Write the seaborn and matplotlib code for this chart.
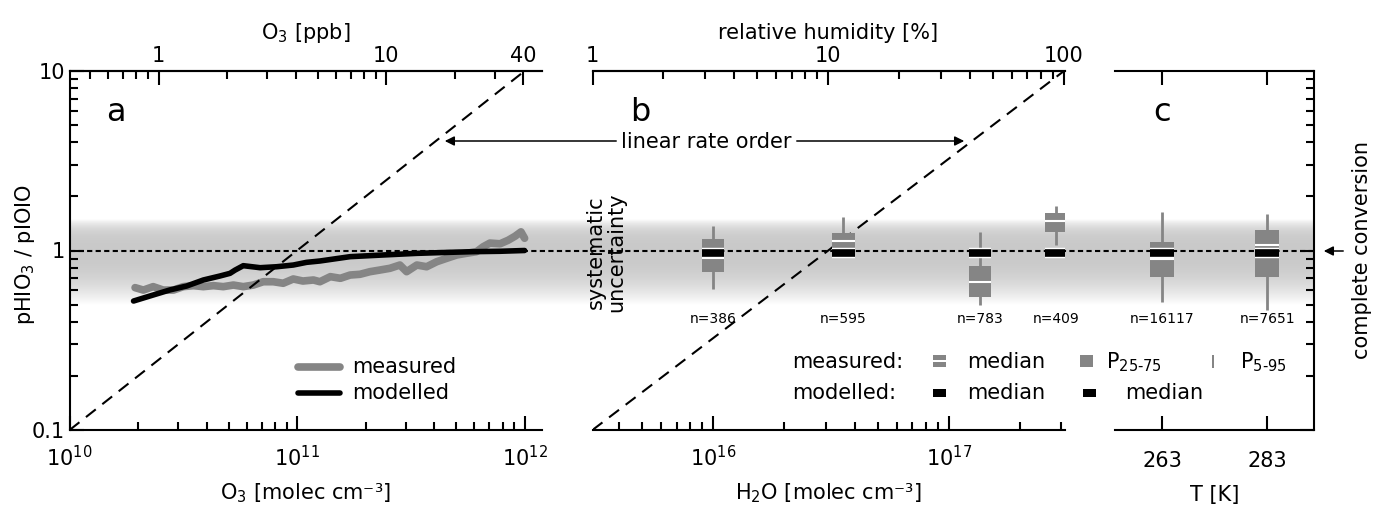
import numpy as np
import matplotlib
matplotlib.use("Agg")
import matplotlib.pyplot as plt
import matplotlib.patheffects as pe
from matplotlib.patches import Rectangle, FancyArrowPatch
from matplotlib.lines import Line2D
from matplotlib.ticker import FixedLocator, NullFormatter, NullLocator
import seaborn as sns

sns.set_style("ticks")
plt.rcParams["font.family"] = ["DejaVu Sans"]
plt.rcParams["mathtext.fontset"] = "dejavusans"
plt.rcParams["font.size"] = 15
plt.rcParams["text.color"] = "k"
plt.rcParams["axes.labelcolor"] = "k"
for ax_name in ("xtick", "ytick"):
    plt.rcParams[f"{ax_name}.direction"] = "in"
    plt.rcParams[f"{ax_name}.color"] = "k"
    plt.rcParams[f"{ax_name}.labelcolor"] = "k"
    plt.rcParams[f"{ax_name}.major.size"] = 10
    plt.rcParams[f"{ax_name}.minor.size"] = 6
    plt.rcParams[f"{ax_name}.major.width"] = 1.5
    plt.rcParams[f"{ax_name}.minor.width"] = 1.5
    plt.rcParams[f"{ax_name}.labelsize"] = 15
plt.rcParams["axes.edgecolor"] = "k"
plt.rcParams["axes.linewidth"] = 1.5

# panel a : ratio against O3 (molec cm-3)
o3_meas = [1.94e10, 2.11e10, 2.33e10, 2.58e10, 2.86e10, 3.16e10, 3.50e10, 3.87e10,
           4.29e10, 4.74e10, 5.25e10, 5.80e10, 6.42e10, 7.10e10, 7.86e10, 8.69e10,
           9.62e10, 1.06e11, 1.18e11, 1.26e11, 1.40e11, 1.55e11, 1.71e11, 1.89e11,
           2.09e11, 2.32e11, 2.56e11, 2.83e11, 3.03e11, 3.36e11, 3.71e11, 4.11e11,
           4.55e11, 5.03e11, 5.56e11, 6.15e11, 6.58e11, 7.04e11, 7.80e11, 8.46e11,
           9.07e11, 9.64e11, 1.0e12]
ratio_meas = [0.621, 0.602, 0.629, 0.602, 0.602, 0.629, 0.637, 0.629,
              0.637, 0.629, 0.642, 0.629, 0.642, 0.670, 0.670, 0.657,
              0.694, 0.676, 0.685, 0.670, 0.715, 0.700, 0.730, 0.737,
              0.762, 0.779, 0.796, 0.830, 0.762, 0.830, 0.812, 0.866,
              0.905, 0.944, 0.965, 0.985, 1.05, 1.10, 1.09, 1.14,
              1.20, 1.27, 1.17]
o3_mod = [1.91e10, 2.33e10, 2.76e10, 3.27e10, 3.87e10, 4.58e10, 5.07e10, 5.34e10,
          5.80e10, 6.88e10, 8.13e10, 9.62e10, 1.10e11, 1.26e11, 1.71e11, 2.39e11,
          3.36e11, 4.70e11, 5.93e11, 7.80e11, 1.0e12]
ratio_mod = [0.523, 0.565, 0.603, 0.634, 0.685, 0.721, 0.746, 0.778,
             0.823, 0.802, 0.812, 0.830, 0.859, 0.874, 0.924, 0.944,
             0.964, 0.977, 0.985, 0.99, 1.0]
a_line_x = [1e10, 1e12]
a_line_y = [0.1, 10]

PPB = 2.46e10    # molec cm-3 per ppb O3
RH1 = 3.08e15    # molec cm-3 H2O at 1 % RH

# panel b : ratio against H2O
h2o_pos = [1.0e16, 3.57e16, 1.355e17, 2.85e17]
h2o_n = [386, 595, 783, 409]
h2o_p5 = [0.61, 0.97, 0.50, 1.07]
h2o_p25 = [0.76, 1.03, 0.55, 1.26]
h2o_med = [0.91, 1.13, 0.67, 1.46]
h2o_p75 = [1.16, 1.25, 0.82, 1.61]
h2o_p95 = [1.37, 1.54, 1.26, 1.78]
h2o_mod = [0.97, 0.97, 0.97, 0.97]
b_line_x = [3.08e15, 3.08e17]
b_line_y = [0.1, 10]

# panel c : ratio against temperature
temp_pos = [263, 283]
temp_n = [16117, 7651]
temp_p5 = [0.515, 0.466]
temp_p25 = [0.709, 0.709]
temp_med = [0.893, 1.07]
temp_p75 = [1.11, 1.30]
temp_p95 = [1.63, 1.59]
temp_mod = [0.97, 0.97]

GRAY = "#858585"
W, H = 1373, 505
fig = plt.figure(figsize=(W / 100, H / 100), dpi=100)


def rect(x0, x1, y0=71, y1=430):
    return [x0 / W, 1 - y1 / H, (x1 - x0) / W, (y1 - y0) / H]


ax_bg = fig.add_axes(rect(69.6, 1314.3), zorder=0)
ax_a = fig.add_axes(rect(69.6, 542), zorder=1)
ax_b = fig.add_axes(rect(592.5, 1064.6), zorder=1)
ax_c = fig.add_axes(rect(1115, 1314.3), zorder=1)
for ax in (ax_a, ax_b, ax_c):
    ax.patch.set_visible(False)

# uncertainty band and the line of complete conversion
ax_bg.set_xlim(0, 1)
ax_bg.set_ylim(-1, 1)
ax_bg.axis("off")
rows = 10 ** np.linspace(np.log10(0.5), np.log10(1.5), 300)
t = (rows - 1) / 0.5
grad = np.zeros((300, 1, 4))
grad[..., :3] = 0.5
grad[:, 0, 3] = 0.42 * (1 - np.abs(t) ** 3)
ax_bg.imshow(grad, extent=[0, 1, np.log10(0.5), np.log10(1.5)], origin="lower",
             aspect="auto", interpolation="bilinear")
ax_bg.axhline(0, color="k", lw=1.5, ls=(0, (2.5, 1.6)))


def style_ticks(axis_obj):
    axis_obj.tick_params(which="both", direction="in", width=1.5, color="k",
                         labelcolor="k", labelsize=15)
    axis_obj.tick_params(which="major", length=10)
    axis_obj.tick_params(which="minor", length=6)


# ---- panel a
sns.lineplot(x=o3_meas, y=ratio_meas, ax=ax_a, color=GRAY, lw=5.5, estimator=None, sort=False)
sns.lineplot(x=o3_mod, y=ratio_mod, ax=ax_a, color="k", lw=4, estimator=None, sort=False)
ax_a.plot(a_line_x, a_line_y, color="k", lw=1.5, ls=(0, (6, 4)))
ax_a.set_xscale("log")
ax_a.set_yscale("log")
ax_a.set_xlim(1e10, 10 ** 12.0765)
ax_a.set_ylim(0.1, 10)
ax_a.spines["right"].set_visible(False)
ax_a.set_yticks([0.1, 1, 10])
ax_a.set_yticklabels(["0.1", "1", "10"])
ax_a.yaxis.set_minor_formatter(NullFormatter())
ax_a.xaxis.set_minor_formatter(NullFormatter())
style_ticks(ax_a)
ax_a.tick_params(which="both", top=False, right=False, bottom=True, left=True)
ax_a.tick_params(axis="x", which="major", pad=11)
ax_a.set_xlabel("O$_3$ [molec cm⁻³]")
ax_a.xaxis.set_label_coords(0.5, -0.142)
ax_a.set_ylabel("pHIO$_3$ / pIOIO")
ax_a.yaxis.set_label_coords(-0.069, 0.49)

top_a = ax_a.secondary_xaxis("top", functions=(lambda x: x / PPB, lambda x: x * PPB))
top_a.set_xticks([1, 10, 40])
top_a.set_xticklabels(["1", "10", "40"])
top_a.xaxis.set_minor_locator(FixedLocator([0.5, 0.6, 0.7, 0.8, 0.9, 2, 3, 4, 5, 6, 7, 8, 9, 20, 30]))
top_a.xaxis.set_minor_formatter(NullFormatter())
style_ticks(top_a)
top_a.spines["top"].set_linewidth(1.5)
top_a.set_xlabel("O$_3$ [ppb]", labelpad=5)


def draw_box(ax, x0, x1, xc, p5, p25, med, p75, p95, mod):
    ax.plot([xc, xc], [p5, p95], color=GRAY, lw=2, solid_capstyle="butt", zorder=3)
    ax.add_patch(Rectangle((x0, p25), x1 - x0, p75 - p25, fc=GRAY, ec="none", zorder=4))
    ax.plot([x0, x1], [med, med], color="white", lw=1.5, solid_capstyle="butt", zorder=5)
    ax.plot([x0, x1], [mod, mod], color="k", lw=5.5, solid_capstyle="butt", zorder=6,
            path_effects=[pe.Stroke(linewidth=7.5, foreground="white"), pe.Normal()])


# ---- panel b
ax_b.plot(b_line_x, b_line_y, color="k", lw=1.5, ls=(0, (6, 4)))
for i, xc in enumerate(h2o_pos):
    draw_box(ax_b, xc * 10 ** -0.048, xc * 10 ** 0.048, xc, h2o_p5[i], h2o_p25[i],
             h2o_med[i], h2o_p75[i], h2o_p95[i], h2o_mod[i])
    ax_b.text(xc, 0.415, f"n={h2o_n[i]}", ha="center", va="center", fontsize=10)
ax_b.set_xscale("log")
ax_b.set_yscale("log")
ax_b.set_xlim(RH1, 100.6 * RH1)
ax_b.set_ylim(0.1, 10)
for s in ("left", "right"):
    ax_b.spines[s].set_visible(False)
ax_b.yaxis.set_major_locator(NullLocator())
ax_b.yaxis.set_minor_locator(NullLocator())
ax_b.xaxis.set_minor_formatter(NullFormatter())
style_ticks(ax_b)
ax_b.tick_params(which="both", left=False, right=False, top=False, bottom=True, labelleft=False)
ax_b.tick_params(axis="x", which="major", pad=11)
ax_b.set_xlabel("H$_2$O [molec cm⁻³]")
ax_b.xaxis.set_label_coords(0.5, -0.142)

top_b = ax_b.secondary_xaxis("top", functions=(lambda x: x / RH1, lambda x: x * RH1))
top_b.set_xticks([1, 10, 100])
top_b.set_xticklabels(["1", "10", "100"])
top_b.xaxis.set_minor_locator(FixedLocator([2, 3, 4, 5, 6, 7, 8, 9, 20, 30, 40, 50, 60, 70, 80, 90]))
top_b.xaxis.set_minor_formatter(NullFormatter())
style_ticks(top_b)
top_b.spines["top"].set_linewidth(1.5)
top_b.set_xlabel("relative humidity [%]", labelpad=5)

# ---- panel c
for i, xc in enumerate(temp_pos):
    draw_box(ax_c, xc - 2.3, xc + 2.3, xc, temp_p5[i], temp_p25[i],
             temp_med[i], temp_p75[i], temp_p95[i], temp_mod[i])
    ax_c.text(xc, 0.415, f"n={temp_n[i]}", ha="center", va="center", fontsize=10)
ax_c.set_yscale("log")
ax_c.set_xlim(254, 292)
ax_c.set_ylim(0.1, 10)
ax_c.spines["left"].set_visible(False)
ax_c.set_xticks(temp_pos)
ax_c.yaxis.set_ticks_position("right")
ax_c.yaxis.set_minor_formatter(NullFormatter())
style_ticks(ax_c)
ax_c.tick_params(which="both", top=True, bottom=True, left=False, right=True,
                 labelleft=False, labelright=False)
ax_c.tick_params(axis="x", which="major", pad=15)
ax_c.set_xlabel("T [K]")
ax_c.xaxis.set_label_coords(0.5, -0.153)


# ---- annotations (figure pixels)
def fig_text(x, y, s, **kw):
    fig.text(x / W, 1 - y / H, s, zorder=10, **kw)


def fig_arrow(x0, y0, x1, y1):
    fig.add_artist(FancyArrowPatch(
        (x0 / W, 1 - y0 / H), (x1 / W, 1 - y1 / H), transform=fig.transFigure,
        arrowstyle="-|>", mutation_scale=14, color="k", lw=1.1, zorder=10))


def fig_rect(x0, y0, x1, y1, color):
    fig.add_artist(Rectangle((x0 / W, 1 - y1 / H), (x1 - x0) / W, (y1 - y0) / H,
                             transform=fig.transFigure, fc=color, ec="none", zorder=10))


fig_text(116, 121, "a", fontsize=23, ha="center", va="baseline")
fig_text(640, 121, "b", fontsize=23, ha="center", va="baseline")
fig_text(1162, 121, "c", fontsize=23, ha="center", va="baseline")

fig_text(706, 142, "linear rate order", ha="center", va="center")
fig_arrow(619, 141, 442, 141)
fig_arrow(794, 141, 967, 141)

fig_text(606, 252, "systematic\nuncertainty", rotation=90, ha="center", va="center",
         linespacing=1.05)

fig_arrow(1346, 251, 1321, 251)
fig_text(1362, 250, "complete conversion", rotation=90, ha="center", va="center")

# panel a legend
fig.add_artist(Line2D([298 / W, 340 / W], [1 - 367 / H] * 2, color=GRAY, lw=5.5, zorder=10))
fig.add_artist(Line2D([298 / W, 340 / W], [1 - 393 / H] * 2, color="k", lw=4, zorder=10))
fig_text(352, 367, "measured", va="center")
fig_text(352, 393, "modelled", va="center")

# panel b/c legend
fig_text(792, 362, "measured:", va="center")
fig_text(792, 393, "modelled:", va="center")
fig_rect(933, 355, 946, 367, GRAY)
fig_rect(933, 360, 946, 362, "white")
fig_text(967, 362, "median", va="center")
fig_rect(1080, 355, 1093, 367, GRAY)
fig_text(1106, 362, "P$_{25\\text{-}75}$", va="center")
fig_rect(1212, 355, 1214, 368, GRAY)
fig_text(1240, 362, "P$_{5\\text{-}95}$", va="center")
fig_rect(933, 389, 946, 397, "k")
fig_text(967, 393, "median", va="center")
fig_rect(1083, 389, 1096, 397, "k")
fig_text(1125, 393, "median", va="center")

fig.savefig("out.png", dpi=100)
